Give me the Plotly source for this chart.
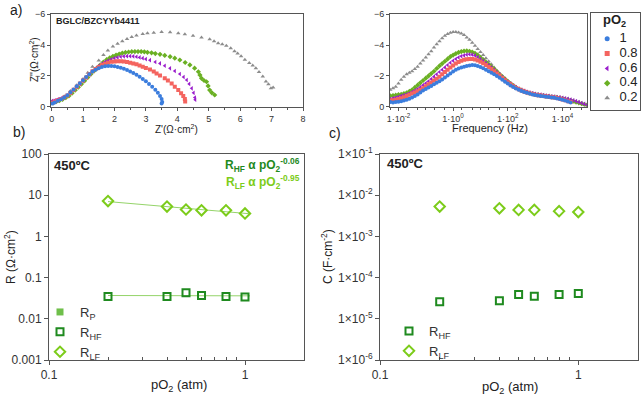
import plotly.graph_objects as go
import numpy as np

# ---------------- DATA ----------------
PO2_LEVELS = ["1", "0.8", "0.6", "0.4", "0.2"]

# Nyquist (Z' , -Z'') per pO2
NYQ_RE_1 = [0.03,0.1,0.2,0.3,0.4,0.5,0.6,0.7,0.8,0.9,1.0,1.1,1.2,1.3,1.4,1.5,1.6,1.7,1.8,1.9,2.0,2.1,2.2,2.3,2.4,2.5,2.6,2.7,2.8,2.9,3.0,3.1,3.2,3.3,3.38,3.45,3.5,3.52,3.5]
NYQ_IM_1 = [0.2,0.28,0.38,0.48,0.6,0.75,0.93,1.12,1.32,1.52,1.72,1.92,2.1,2.28,2.4,2.5,2.57,2.62,2.64,2.64,2.62,2.58,2.53,2.46,2.38,2.29,2.19,2.07,1.94,1.8,1.65,1.48,1.3,1.1,0.9,0.7,0.5,0.3,0.2]

NYQ_RE_08 = [0.03,0.1,0.2,0.3,0.4,0.5,0.6,0.7,0.8,0.9,1.0,1.1,1.2,1.3,1.4,1.5,1.6,1.7,1.8,1.9,2.0,2.1,2.2,2.3,2.4,2.5,2.6,2.7,2.8,2.9,3.0,3.13,3.25,3.34,3.45,3.6,3.7,3.82,3.92,4.03,4.12,4.19,4.24,4.25]
NYQ_IM_08 = [0.25,0.33,0.42,0.5,0.6,0.72,0.9,1.1,1.3,1.5,1.7,1.9,2.1,2.3,2.45,2.58,2.7,2.79,2.86,2.91,2.94,2.95,2.95,2.93,2.9,2.86,2.81,2.75,2.68,2.6,2.51,2.42,2.28,2.16,2.02,1.84,1.7,1.51,1.3,1.08,0.88,0.7,0.5,0.33]

NYQ_RE_06 = [0.02,0.1,0.2,0.3,0.4,0.5,0.6,0.7,0.8,0.9,1.0,1.1,1.2,1.3,1.4,1.5,1.6,1.7,1.8,1.9,2.0,2.1,2.2,2.3,2.4,2.5,2.6,2.7,2.8,2.9,3.0,3.13,3.3,3.45,3.6,3.77,3.92,4.08,4.2,4.3,4.38,4.46,4.52,4.56,4.57]
NYQ_IM_06 = [0.38,0.42,0.48,0.55,0.63,0.74,0.9,1.08,1.28,1.48,1.68,1.9,2.1,2.32,2.5,2.65,2.78,2.9,3.0,3.08,3.15,3.2,3.24,3.27,3.28,3.28,3.27,3.24,3.2,3.15,3.09,3.02,2.9,2.81,2.66,2.49,2.32,2.12,1.93,1.73,1.48,1.19,0.9,0.6,0.45]

NYQ_RE_04 = [0.05,0.15,0.25,0.35,0.45,0.55,0.65,0.75,0.85,0.95,1.05,1.15,1.25,1.35,1.45,1.55,1.65,1.75,1.85,1.95,2.05,2.15,2.25,2.35,2.45,2.55,2.65,2.75,2.85,2.95,3.05,3.18,3.3,3.45,3.6,3.77,3.92,4.08,4.25,4.4,4.55,4.67,4.72,4.77,4.85,4.93,4.98,5.03,5.1,5.19]
NYQ_IM_04 = [0.25,0.32,0.4,0.48,0.58,0.7,0.88,1.07,1.27,1.47,1.68,1.9,2.12,2.32,2.52,2.72,2.9,3.05,3.17,3.27,3.35,3.42,3.48,3.52,3.55,3.57,3.58,3.58,3.58,3.56,3.53,3.5,3.45,3.4,3.33,3.25,3.15,3.03,2.87,2.71,2.5,2.27,2.05,1.84,1.7,1.62,1.35,1.08,0.9,0.76]

NYQ_RE_02 = [0.05,0.2,0.4,0.6,0.8,1.0,1.15,1.3,1.5,1.65,1.79,1.95,2.1,2.25,2.4,2.55,2.7,2.9,3.05,3.25,3.5,3.77,4.03,4.24,4.5,4.77,5.03,5.17,5.3,5.43,5.56,5.7,5.82,5.92,6.03,6.15,6.29,6.4,6.5,6.6,6.72,6.82,6.9,6.98,7.05]
NYQ_IM_02 = [0.3,0.45,0.68,1.02,1.4,1.8,2.2,2.6,3.0,3.35,3.65,3.9,4.09,4.25,4.4,4.52,4.63,4.72,4.76,4.8,4.85,4.83,4.77,4.7,4.6,4.5,4.38,4.25,4.12,4.05,3.95,3.8,3.6,3.45,3.27,3.05,2.84,2.67,2.5,2.25,1.96,1.64,1.45,1.2,1.25]

# Bode: log10(frequency / Hz) and -Z'' per pO2
BODE_LOGF = [-2.3,-2.2,-2.1,-2.0,-1.9,-1.8,-1.7,-1.6,-1.5,-1.4,
             -1.3,-1.2,-1.1,-1.0,-0.9,-0.8,-0.7,-0.6,-0.5,-0.4,
             -0.3,-0.2,-0.1,0.0,0.1,0.2,0.3,0.4,0.5,0.6,
             0.7,0.8,0.9,1.0,1.1,1.2,1.3,1.4,1.5,1.6,
             1.7,1.8,1.9,2.0,2.1,2.2,2.3,2.4,2.5,2.6,
             2.7,2.8,2.9,3.0,3.1,3.2,3.3,3.4,3.5,3.6,
             3.7,3.8,3.9,4.0,4.1,4.2,4.3,4.4,4.5,4.6,
             4.7,4.8,4.9]
BODE_IM_1 = [0.3,0.28,0.3,0.32,0.35,0.4,0.45,0.52,0.6,0.7,
             0.8,0.92,1.05,1.15,1.25,1.35,1.45,1.55,1.65,1.77,
             1.9,2.02,2.15,2.28,2.4,2.48,2.55,2.6,2.65,2.68,
             2.7,2.69,2.65,2.58,2.5,2.4,2.3,2.2,2.1,1.99,
             1.88,1.75,1.62,1.5,1.38,1.28,1.18,1.1,1.02,0.96,
             0.9,0.85,0.8,0.76,0.73,0.7,0.68,0.65,0.63,0.6,
             0.58,0.54,0.5,0.45,0.4,0.34,0.28,None,None,None,
             None,None,None]
BODE_IM_08 = [0.4,0.42,0.45,0.5,0.55,0.62,0.7,0.77,0.85,0.92,
              1.0,1.1,1.2,1.32,1.45,1.57,1.7,1.82,1.95,2.1,
              2.25,2.4,2.55,2.68,2.8,2.9,2.98,3.04,3.08,3.1,
              3.1,3.06,3.0,2.92,2.82,2.7,2.58,2.44,2.3,2.16,
              2.02,1.87,1.72,1.58,1.45,1.33,1.22,1.13,1.05,0.98,
              0.92,0.87,0.82,0.78,0.75,0.72,0.7,0.67,0.65,0.62,
              0.6,0.56,0.52,0.47,0.42,0.36,0.3,None,None,None,
              None,None,None]
BODE_IM_06 = [0.5,0.55,0.6,0.65,0.7,0.75,0.8,0.87,0.95,1.05,
              1.15,1.27,1.4,1.52,1.65,1.8,1.95,2.1,2.25,2.4,
              2.55,2.7,2.85,2.98,3.1,3.2,3.28,3.33,3.38,3.4,
              3.38,3.32,3.22,3.1,2.98,2.84,2.7,2.55,2.4,2.24,
              2.08,1.93,1.78,1.64,1.5,1.38,1.27,1.18,1.1,1.03,
              0.97,0.92,0.88,0.84,0.81,0.78,0.76,0.73,0.71,0.68,
              0.66,0.63,0.61,0.58,0.55,0.51,0.47,0.42,0.36,0.3,
              0.24,0.18,0.12]
BODE_IM_04 = [0.7,0.72,0.75,0.78,0.8,0.85,0.9,1.0,1.1,1.25,
              1.4,1.55,1.7,1.85,2.0,2.15,2.3,2.48,2.65,2.8,
              2.95,3.1,3.25,3.35,3.45,3.52,3.58,3.61,3.62,3.6,
              3.55,3.47,3.35,3.2,3.05,2.9,2.75,2.6,2.45,2.28,
              2.1,1.95,1.8,1.65,1.5,1.37,1.25,1.15,1.07,1.0,
              0.93,0.88,0.84,0.8,0.77,0.74,0.72,0.69,0.67,0.64,
              0.62,0.6,0.57,0.54,0.5,0.46,0.42,0.36,0.3,0.25,
              0.2,0.15,0.1]
BODE_IM_02 = [1.1,1.2,1.3,1.5,1.75,1.95,2.1,2.2,2.3,2.45,
              2.6,2.8,3.0,3.2,3.4,3.6,3.85,4.05,4.25,4.45,
              4.6,4.72,4.8,4.85,4.85,4.82,4.75,4.65,4.5,4.35,
              4.15,3.95,3.75,3.55,3.35,3.15,2.95,2.75,2.55,2.35,
              2.15,1.97,1.8,1.65,1.5,1.37,1.25,1.15,1.08,1.01,
              0.95,0.9,0.85,0.81,0.77,0.74,0.72,0.69,0.66,0.63,
              0.61,0.58,0.56,0.53,0.5,0.45,0.38,0.33,0.28,0.24,
              0.2,0.15,0.1]

# Panels b, c
PO2 = [0.2, 0.4, 0.5, 0.6, 0.8, 1.0]
R_HF = [0.035, 0.035, 0.043, 0.037, 0.035, 0.034]
R_LF = [7.2, 5.3, 4.5, 4.3, 4.3, 3.6]
C_HF = [2.6e-5, 2.75e-5, 3.9e-5, 3.55e-5, 3.9e-5, 4.1e-5]
C_LF = [5.3e-3, 4.8e-3, 4.4e-3, 4.4e-3, 4.1e-3, 3.9e-3]

BODE_TICKS = [-2, 0, 2, 4]
B_YTICKS = [1e-3, 1e-2, 1e-1, 1, 10, 100]
B_YTEXT = ["0.001", "0.01", "0.1", "1", "10", "100"]
C_YTICKS = [1e-6, 1e-5, 1e-4, 1e-3, 1e-2, 1e-1]
C_YTEXT = ["1×10<sup>-6</sup>", "1×10<sup>-5</sup>", "1×10<sup>-4</sup>",
           "1×10<sup>-3</sup>", "1×10<sup>-2</sup>", "1×10<sup>-1</sup>"]
PO2_MINOR = [0.2, 0.3, 0.4, 0.5, 0.6, 0.7, 0.8, 0.9]

# ---------------- STYLE ----------------
W, H = 641, 400
FONT = "Liberation Sans, Arial, sans-serif"
COLS = ["#3b7ddd", "#f4645f", "#9a1dcc", "#6ab023", "#8c8c8c"]
SYMS = ["circle", "square", "triangle-left", "diamond", "triangle-up"]
DKG = "#1f8a1f"
LTG = "#7ccc1a"
LINEG = "#95d46a"
AX = "#555555"

def xd(a, b):
    return [a / W, b / W]

def yd(top, bot):
    return [1 - bot / H, 1 - top / H]

fig = go.Figure()

nyq = [(NYQ_RE_1, NYQ_IM_1), (NYQ_RE_08, NYQ_IM_08), (NYQ_RE_06, NYQ_IM_06),
       (NYQ_RE_04, NYQ_IM_04), (NYQ_RE_02, NYQ_IM_02)]
bode = [BODE_IM_1, BODE_IM_08, BODE_IM_06, BODE_IM_04, BODE_IM_02]
freq = [10 ** e for e in BODE_LOGF]

for i in [4, 3, 2, 1, 0]:
    re, im = nyq[i]
    fig.add_trace(go.Scatter(x=re, y=[-v for v in im], mode="markers",
                             marker=dict(color=COLS[i], symbol=SYMS[i], size=4),
                             xaxis="x", yaxis="y", showlegend=False))
for i in [4, 3, 2, 1, 0]:
    fig.add_trace(go.Scatter(x=freq, y=[None if v is None else -v for v in bode[i]],
                             mode="markers",
                             marker=dict(color=COLS[i], symbol=SYMS[i], size=4),
                             xaxis="x2", yaxis="y2", showlegend=False))

# legend box of panel a (own small axes)
idx = list(range(len(PO2_LEVELS)))
fig.add_trace(go.Scatter(x=[0.33] * 5, y=idx, mode="markers",
                         marker=dict(color=COLS, symbol=SYMS, size=5),
                         xaxis="x5", yaxis="y5", showlegend=False, hoverinfo="skip"))
fig.add_trace(go.Scatter(x=[0.58] * 5, y=idx, mode="text", text=PO2_LEVELS,
                         textposition="middle right",
                         textfont=dict(family=FONT, size=13, color="#222222"),
                         xaxis="x5", yaxis="y5", showlegend=False, hoverinfo="skip"))

# panel b: fits
def fit_line(x, y, x0, x1):
    p = np.polyfit(np.log10(x), np.log10(y), 1)
    xs = [x0, x1]
    return xs, [10 ** (p[1] + p[0] * np.log10(v)) for v in xs]

fx, fy = fit_line(PO2, R_LF, PO2[0], PO2[-1] * 1.06)
fig.add_trace(go.Scatter(x=fx, y=fy, mode="lines", line=dict(color=LINEG, width=1),
                         xaxis="x3", yaxis="y3", showlegend=False))
fx, fy = fit_line(PO2, R_HF, PO2[0], PO2[-1] * 1.06)
fig.add_trace(go.Scatter(x=fx, y=fy, mode="lines", line=dict(color=LINEG, width=1),
                         xaxis="x3", yaxis="y3", showlegend=False))

fig.add_trace(go.Scatter(x=[None], y=[None], mode="markers", name="R<sub>P</sub>",
                         marker=dict(color="#6fbf4a", symbol="square", size=7),
                         xaxis="x3", yaxis="y3", legend="legend2"))
fig.add_trace(go.Scatter(x=PO2, y=R_HF, mode="markers", name="R<sub>HF</sub>",
                         marker=dict(color=DKG, symbol="square-open", size=7, line=dict(width=2)),
                         xaxis="x3", yaxis="y3", legend="legend2"))
fig.add_trace(go.Scatter(x=PO2, y=R_LF, mode="markers", name="R<sub>LF</sub>",
                         marker=dict(color=LTG, symbol="diamond-open", size=8, line=dict(width=2)),
                         xaxis="x3", yaxis="y3", legend="legend2"))

fig.add_trace(go.Scatter(x=PO2, y=C_HF, mode="markers", name="R<sub>HF</sub>",
                         marker=dict(color=DKG, symbol="square-open", size=7, line=dict(width=2)),
                         xaxis="x4", yaxis="y4", legend="legend3"))
fig.add_trace(go.Scatter(x=PO2, y=C_LF, mode="markers", name="R<sub>LF</sub>",
                         marker=dict(color=LTG, symbol="diamond-open", size=8, line=dict(width=2)),
                         xaxis="x4", yaxis="y4", legend="legend3"))

common = dict(showline=True, linecolor=AX, linewidth=1, mirror=True, showgrid=False,
              zeroline=False, ticks="outside", ticklen=3, tickcolor=AX, automargin=False,
              tickfont=dict(family=FONT, size=9, color="#333333"))
commonb = dict(common, tickfont=dict(family=FONT, size=12, color="#333333"), ticklen=4)

fig.update_layout(
    width=W, height=H,
    margin=dict(l=0, r=0, t=0, b=0, autoexpand=False),
    paper_bgcolor="white", plot_bgcolor="white",
    font=dict(family=FONT, color="#222222"),
    xaxis=dict(common, domain=xd(51, 303), range=[-0.02, 8.0], dtick=1, anchor="y",
               minor=dict(ticks="outside", ticklen=2, dtick=0.5, tickcolor=AX)),
    yaxis=dict(common, domain=yd(13.5, 106.7), range=[0, -6.05], tickvals=[0, -2, -4, -6],
               anchor="x"),
    xaxis2=dict(common, domain=xd(390, 587), type="log", range=[-2.31, 4.9],
                tickvals=[10 ** e for e in BODE_TICKS],
                ticktext=["1·10<sup>%d</sup>" % e for e in BODE_TICKS], anchor="y2",
                minor=dict(ticks="outside", ticklen=2, tickcolor=AX)),
    yaxis2=dict(common, domain=yd(13.5, 106.7), range=[0, -6.05], tickvals=[0, -2, -4, -6],
                anchor="x2"),
    xaxis3=dict(commonb, domain=xd(49, 304), type="log", range=[-1, np.log10(2)],
                tickvals=[0.1, 1], ticktext=["0.1", "1"], anchor="y3",
                minor=dict(ticks="inside", ticklen=3, tickcolor=AX, tickvals=PO2_MINOR)),
    yaxis3=dict(commonb, domain=yd(154, 360), type="log", range=[-3, 2],
                tickvals=B_YTICKS, ticktext=B_YTEXT, anchor="x3"),
    xaxis4=dict(commonb, domain=xd(380, 638), type="log", range=[-1, np.log10(2)],
                tickvals=[0.1, 1], ticktext=["0.1", "1"], anchor="y4",
                minor=dict(ticks="inside", ticklen=3, tickcolor=AX, tickvals=PO2_MINOR)),
    yaxis4=dict(commonb, domain=yd(154, 360), type="log", range=[-6, -1],
                tickvals=C_YTICKS, ticktext=C_YTEXT, anchor="x4"),
    xaxis5=dict(domain=xd(591, 640), range=[0, 1], showline=True, mirror=True,
                linecolor=AX, linewidth=1, showgrid=False, zeroline=False,
                showticklabels=False, ticks="", anchor="y5", fixedrange=True),
    yaxis5=dict(domain=yd(12.7, 110), range=[4.81, -1.76], showline=True, mirror=True,
                linecolor=AX, linewidth=1, showgrid=False, zeroline=False,
                showticklabels=False, ticks="", anchor="x5", fixedrange=True),
    legend2=dict(x=40 / W, y=1 - 297 / H, xanchor="left", yanchor="top",
                 bgcolor="rgba(0,0,0,0)", font=dict(family=FONT, size=13, color="#333333"),
                 tracegroupgap=0, itemwidth=30),
    legend3=dict(x=389 / W, y=1 - 316 / H, xanchor="left", yanchor="top",
                 bgcolor="rgba(0,0,0,0)", font=dict(family=FONT, size=13, color="#333333"),
                 tracegroupgap=0, itemwidth=30),
)

def ann(text, x, y, size=11, color="#222222", angle=0, xanchor="center", bold=False):
    if bold:
        text = "<b>" + text + "</b>"
    fig.add_annotation(text=text, x=x / W, y=1 - y / H, xref="paper", yref="paper",
                       showarrow=False, textangle=angle, xanchor=xanchor, yanchor="middle",
                       font=dict(family=FONT, size=size, color=color))

ann("a)", 16, 10, size=14)
ann("b)", 19, 132, size=14)
ann("c)", 335, 133, size=14)
ann("pO<sub>2</sub>", 614, 21, size=13, bold=True)
ann("BGLC/BZCYYb4411", 54, 21, size=9, xanchor="left", bold=True)
ann("Z'(Ω·cm<sup>2</sup>)", 176, 129, size=10)
ann("Z''(Ω·cm<sup>2</sup>)", 34, 60, size=10, angle=-90)
ann("Frequency (Hz)", 490, 128, size=11)
ann("450ºC", 52, 165, size=13, xanchor="left", bold=True)
ann("450ºC", 385, 164, size=13, xanchor="left", bold=True)
ann("R<sub>HF</sub> α pO<sub>2</sub><sup>-0.06</sup>", 302, 165, size=12, color=DKG, xanchor="right", bold=True)
ann("R<sub>LF</sub> α pO<sub>2</sub><sup>-0.95</sup>", 302, 182, size=12, color=LTG, xanchor="right", bold=True)
ann("R (Ω·cm<sup>2</sup>)", 10, 257, size=12, angle=-90)
ann("C (F·cm<sup>-2</sup>)", 327, 257, size=12, angle=-90)
ann("pO<sub>2</sub> (atm)", 179, 385, size=13)
ann("pO<sub>2</sub> (atm)", 510, 387, size=13)

fig.write_html("out.html")
